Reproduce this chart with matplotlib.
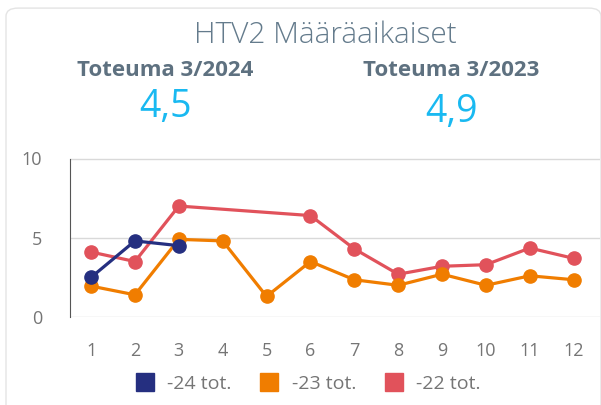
import numpy as np
import matplotlib.pyplot as plt
from matplotlib.patches import FancyBboxPatch
from matplotlib.lines import Line2D

months = list(range(1, 13))
tot24 = [2.5, 4.8, 4.5]
tot23 = [1.95, 1.4, 4.9, 4.8, 1.3, 3.5, 2.35, 2.0, 2.7, 2.0, 2.6, 2.35]
months22 = [1, 2, 3, 6, 7, 8, 9, 10, 11, 12]
tot22 = [4.1, 3.5, 7.0, 6.4, 4.3, 2.7, 3.2, 3.3, 4.35, 3.7]

title = "HTV2 Määräaikaiset"
kpi_labels = ["Toteuma 3/2024", "Toteuma 3/2023"]
kpi_values = ["4,5", "4,9"]
series_names = ["-24 tot.", "-23 tot.", "-22 tot."]
colors = ["#252f80", "#f07d00", "#e1525b"]

plt.rcParams['font.family'] = ['Open Sans', 'DejaVu Sans']

fig = plt.figure(figsize=(6.01, 4.05), dpi=100)
card = FancyBboxPatch((6 / 601, -0.05), 0.99, 1.03, boxstyle="round,pad=0,rounding_size=0.02",
                      transform=fig.transFigure, facecolor="white", edgecolor="#e4e4e4", lw=1, zorder=-5)
fig.patches.append(card)

fig.text(325 / 601, 1 - 35 / 405, title, ha="center", va="center", fontsize=21.5, color="#647b8c", fontweight="light")
fig.text(165 / 601, 1 - 70 / 405, kpi_labels[0], ha="center", va="center", fontsize=16, color="#5e7180", fontweight="bold")
fig.text(451 / 601, 1 - 70 / 405, kpi_labels[1], ha="center", va="center", fontsize=16, color="#5e7180", fontweight="bold")
fig.text(166 / 601, 1 - 107 / 405, kpi_values[0], ha="center", va="center", fontsize=27, color="#19b9f1")
fig.text(452 / 601, 1 - 112 / 405, kpi_values[1], ha="center", va="center", fontsize=27, color="#19b9f1")

ax = fig.add_axes([70 / 601, 1 - 317 / 405, 530 / 601, 158.5 / 405])
ax.patch.set_alpha(0)
ax.plot(months22, tot22, color=colors[2], lw=2.3, marker="o", ms=9.5, zorder=2)
ax.plot(months, tot23, color=colors[1], lw=2.3, marker="o", ms=9.5, zorder=3)
ax.plot(months[:3], tot24, color=colors[0], lw=2.3, marker="o", ms=9.5, zorder=4)

ax.set_xlim(0.52, 12.6)
ax.set_ylim(0, 10)
ax.set_yticks([0, 5, 10])
ax.set_xticks(months)
ax.grid(axis="y", color="#d9d9d9", lw=1)
ax.set_axisbelow(True)
for s in ["top", "right", "bottom"]:
    ax.spines[s].set_visible(False)
ax.spines["left"].set_color("#555555")
ax.tick_params(length=0, labelsize=13, labelcolor="#757575")
ax.tick_params(axis="x", pad=18)
ax.tick_params(axis="y", pad=20)

handles = [Line2D([], [], ls="none", marker="s", ms=13, color=c) for c in colors]
fig.legend(handles, series_names, loc="center", bbox_to_anchor=(307 / 601, 1 - 384 / 405), ncol=3,
           frameon=False, fontsize=14, labelcolor="#757575", handletextpad=0.55, columnspacing=1.35,
           handlelength=1.2)

fig.savefig("out.png", dpi=100)
